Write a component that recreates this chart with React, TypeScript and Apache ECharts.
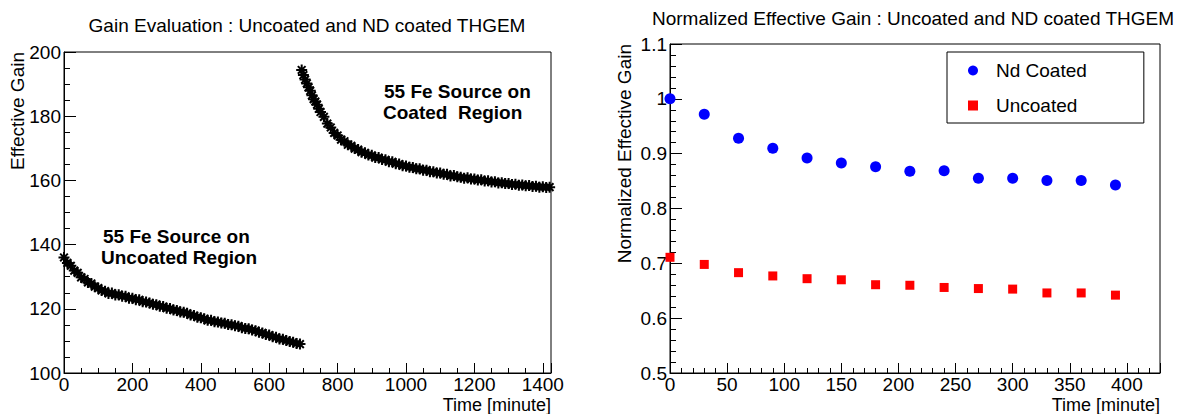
import React, { useEffect, useRef } from "react";
import * as echarts from "echarts";

// ---------- Left panel: effective gain vs time ----------
const uncoatedTime = [
  0, 10, 20, 30, 40, 50, 60, 70, 80, 90, 100, 110, 120, 130, 140, 150, 160, 170, 180, 190,
  200, 210, 220, 230, 240, 250, 260, 270, 280, 290, 300, 310, 320, 330, 340, 350, 360, 370, 380, 390,
  400, 410, 420, 430, 440, 450, 460, 470, 480, 490, 500, 510, 520, 530, 540, 550, 560, 570, 580, 590,
  600, 610, 620, 630, 640, 650, 660, 670, 680, 690,
];
const uncoatedGain = [
  136.0, 134.3, 133.4, 131.9, 131.2, 129.8, 129.3, 128.2, 127.9, 126.9, 126.5, 125.7, 125.5, 124.8, 124.9, 124.3, 124.4, 123.9, 123.9, 123.3,
  123.3, 122.8, 122.8, 122.2, 122.1, 121.8, 121.4, 121.3, 120.8, 120.7, 120.2, 120.1, 119.6, 119.5, 119.0, 118.9, 118.6, 118.1, 117.9, 117.4,
  117.2, 116.9, 116.4, 116.4, 116.0, 115.9, 115.6, 115.5, 115.1, 115.0, 114.7, 114.6, 114.1, 113.9, 113.8, 113.4, 113.2, 112.7, 112.5, 112.0,
  111.8, 111.3, 111.1, 110.6, 110.5, 110.1, 109.8, 109.6, 109.2, 109.0,
];
const coatedTime = [
  695, 700, 705, 710, 715, 720, 725, 730, 735, 740, 745, 750, 760, 770, 780, 790, 800, 810, 820, 830, 840, 850, 860, 870, 880,
  890, 900, 910, 920, 930, 940, 950, 960, 970, 980, 990, 1000, 1010, 1020, 1030, 1040, 1050, 1060, 1070, 1080,
  1090, 1100, 1110, 1120, 1130, 1140, 1150, 1160, 1170, 1180, 1190, 1200, 1210, 1220, 1230, 1240, 1250, 1260, 1270, 1280,
  1290, 1300, 1310, 1320, 1330, 1340, 1350, 1360, 1370, 1380, 1390, 1400, 1410, 1420,
];
const coatedGain = [
  194.4, 192.8, 191.4, 190.2, 189.0, 187.9, 186.5, 185.3, 184.6, 183.6, 182.3, 181.3, 179.8, 177.7, 176.5, 174.8, 174.0, 172.7, 172.2, 171.1, 170.8, 169.9, 169.6, 168.8, 168.6,
  167.9, 167.8, 167.1, 167.1, 166.5, 166.4, 165.8, 165.8, 165.2, 165.1, 164.6, 164.5, 164.1, 164.0, 163.6, 163.6, 163.2, 163.2, 162.7, 162.7,
  162.3, 162.3, 161.9, 161.9, 161.4, 161.5, 161.1, 161.0, 160.7, 160.8, 160.4, 160.4, 160.1, 160.2, 159.8, 159.9, 159.5, 159.6, 159.2, 159.3,
  159.0, 159.0, 158.7, 158.8, 158.5, 158.6, 158.3, 158.4, 158.1, 158.2, 157.9, 158.0, 157.8, 157.9,
];

// ---------- Right panel: normalized effective gain ----------
const normTime = [0, 30, 60, 90, 120, 150, 180, 210, 240, 270, 300, 330, 360, 390];
const ndCoatedNorm = [1.0, 0.972, 0.928, 0.91, 0.892, 0.883, 0.876, 0.868, 0.869, 0.855, 0.855, 0.851, 0.851, 0.843];
const uncoatedNorm = [0.711, 0.698, 0.683, 0.677, 0.672, 0.67, 0.661, 0.66, 0.656, 0.654, 0.653, 0.646, 0.646, 0.642];

const leftTitle = "Gain Evaluation : Uncoated and ND coated THGEM";
const rightTitle = "Normalized Effective Gain : Uncoated and ND coated THGEM";

const FONT = "'Liberation Sans', Arial, Helvetica, sans-serif";
const FS = 19;
const STAR = "path://M5,0L5,10M0,5L10,5M1.5,1.5L8.5,8.5M8.5,1.5L1.5,8.5";

const zip = (xs: number[], ys: number[]) => xs.map((x, i) => [x, ys[i]]);

export default function App() {
  const ref = useRef<HTMLDivElement>(null);
  useEffect(() => {
    if (!ref.current) return;
    const chart = echarts.init(ref.current, undefined, { renderer: "svg" });
    const axisCommon = {
      type: "value" as const,
      splitLine: { show: false },
      axisLine: { show: true, onZero: false, lineStyle: { color: "#000", width: 1 } },
      axisLabel: { color: "#000", fontSize: FS, fontFamily: FONT, showMaxLabel: false },
    };
    const text = (t: string, x: number, y: number, extra: any = {}) => ({
      type: "text",
      x,
      y,
      silent: true,
      ...extra,
      style: {
        text: t,
        fill: "#000",
        fontSize: FS,
        fontFamily: FONT,
        verticalAlign: "middle",
        ...(extra.style || {}),
      },
    });
    const starStyle = { color: "#000", borderColor: "#000", borderWidth: 2, opacity: 1 };
    chart.setOption({
      animation: false,
      backgroundColor: "#fff",
      grid: [
        { left: 64, top: 52, width: 487, height: 321, show: true, borderColor: "#000", borderWidth: 1, backgroundColor: "transparent" },
        { left: 670, top: 44, width: 490, height: 329, show: true, borderColor: "#000", borderWidth: 1, backgroundColor: "transparent" },
      ],
      xAxis: [
        {
          ...axisCommon,
          gridIndex: 0,
          min: 0,
          max: 1424,
          interval: 200,
          axisTick: { show: true, inside: true, length: 10, lineStyle: { color: "#000" } },
          minorTick: { show: true, splitNumber: 4, length: 5, lineStyle: { color: "#000" } },
          axisLabel: { ...axisCommon.axisLabel, margin: 2, formatter: (v: number) => String(v) },
        },
        {
          ...axisCommon,
          gridIndex: 1,
          min: 0,
          max: 429,
          interval: 50,
          axisTick: { show: true, inside: true, length: 10, lineStyle: { color: "#000" } },
          minorTick: { show: true, splitNumber: 5, length: 5, lineStyle: { color: "#000" } },
          axisLabel: { ...axisCommon.axisLabel, margin: 2, formatter: (v: number) => String(v) },
        },
      ],
      yAxis: [
        {
          ...axisCommon,
          gridIndex: 0,
          min: 100,
          max: 200,
          interval: 20,
          axisTick: { show: true, inside: true, length: 12, lineStyle: { color: "#000" } },
          minorTick: { show: true, splitNumber: 4, length: 6, lineStyle: { color: "#000" } },
          axisLabel: { ...axisCommon.axisLabel, showMaxLabel: true, margin: 3, formatter: (v: number) => String(v) },
        },
        {
          ...axisCommon,
          gridIndex: 1,
          min: 0.5,
          max: 1.1,
          interval: 0.1,
          axisTick: { show: true, inside: true, length: 12, lineStyle: { color: "#000" } },
          minorTick: { show: true, splitNumber: 5, length: 6, lineStyle: { color: "#000" } },
          axisLabel: {
            ...axisCommon.axisLabel,
            showMaxLabel: true,
            margin: 3,
            formatter: (v: number) => String(Math.round(v * 10) / 10),
          },
        },
      ],
      legend: {
        show: true,
        orient: "vertical",
        left: 947,
        top: 52,
        data: [
          { name: "Nd Coated", icon: "circle" },
          { name: "Uncoated", icon: "rect" },
        ],
        itemWidth: 10,
        itemHeight: 10,
        itemGap: 16,
        borderColor: "#000",
        borderWidth: 1,
        backgroundColor: "#fff",
        padding: [9, 57, 8, 21],
        textStyle: { fontSize: FS, color: "#000", fontFamily: FONT, padding: [0, 0, 0, 13] },
      },
      series: [
        {
          name: "Uncoated region gain",
          type: "scatter",
          xAxisIndex: 0,
          yAxisIndex: 0,
          symbol: STAR,
          symbolSize: 11,
          itemStyle: starStyle,
          data: zip(uncoatedTime, uncoatedGain),
        },
        {
          name: "Coated region gain",
          type: "scatter",
          xAxisIndex: 0,
          yAxisIndex: 0,
          symbol: STAR,
          symbolSize: 11,
          itemStyle: starStyle,
          data: zip(coatedTime, coatedGain),
        },
        {
          name: "Nd Coated",
          type: "scatter",
          xAxisIndex: 1,
          yAxisIndex: 1,
          symbol: "circle",
          symbolSize: 11,
          itemStyle: { color: "#0000ff", opacity: 1 },
          data: zip(normTime, ndCoatedNorm),
        },
        {
          name: "Uncoated",
          type: "scatter",
          xAxisIndex: 1,
          yAxisIndex: 1,
          symbol: "rect",
          symbolSize: 9,
          itemStyle: { color: "#ff0000", opacity: 1 },
          data: zip(normTime, uncoatedNorm),
        },
      ],
      graphic: [
        text(leftTitle, 307, 25, { style: { align: "center" } }),
        text(rightTitle, 913, 18, { style: { align: "center" } }),
        text("Effective Gain", 17, 52, { rotation: Math.PI / 2, style: { align: "right" } }),
        text("Normalized Effective Gain", 624, 44, { rotation: Math.PI / 2, style: { align: "right" } }),
        text("Time [minute]", 551, 405, { style: { align: "right", fontSize: 18 } }),
        text("Time [minute]", 1160, 405, { style: { align: "right", fontSize: 18 } }),
        text("55 Fe Source on", 384, 91, { style: { fontWeight: "bold" } }),
        text("Coated  Region", 383, 112, { style: { fontWeight: "bold" } }),
        text("55 Fe Source on", 103, 236, { style: { fontWeight: "bold" } }),
        text("Uncoated Region", 101, 257, { style: { fontWeight: "bold" } }),
      ],
    });
    return () => chart.dispose();
  }, []);
  return (
    <div
      ref={ref}
      style={{ position: "absolute", left: 0, top: 0, width: 1180, height: 414 }}
    />
  );
}
